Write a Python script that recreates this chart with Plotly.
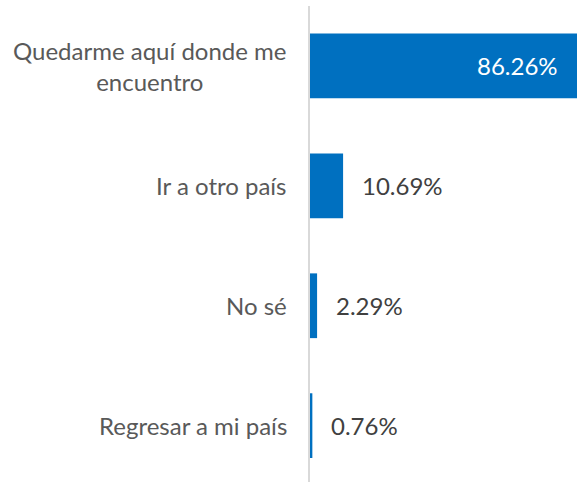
import plotly.graph_objects as go

categories = ['Quedarme aquí donde me<br>encuentro', 'Ir a otro país', 'No sé', 'Regresar a mi país']
values = [86.26, 10.69, 2.29, 0.76]
value_labels = ['86.26%', '10.69%', '2.29%', '0.76%']

bar_color = '#0070C0'
label_color = '#595959'
value_color = '#404040'

fig = go.Figure()
fig.add_trace(go.Bar(
    x=values, y=categories, orientation='h',
    marker=dict(color=bar_color, line=dict(width=0)),
    width=0.54, hoverinfo='skip'
))

# value labels: inside (white) for the big bar, outside otherwise
for cat, val, txt in zip(categories, values, value_labels):
    inside = val > 50
    fig.add_annotation(
        x=val, y=cat, xref='x', yref='y', text=txt, showarrow=False,
        xanchor='right' if inside else 'left',
        xshift=-17 if inside else 17,
        font=dict(family='Lato', size=24, color='white' if inside else value_color)
    )

# category labels, centred multi-line like the original
for cat in categories:
    fig.add_annotation(
        x=0, y=cat, xref='paper', yref='y', text=cat, showarrow=False,
        xanchor='right', xshift=-21, align='center',
        font=dict(family='Lato', size=24, color=label_color)
    )

fig.update_layout(
    width=583, height=482,
    margin=dict(l=310, r=6, t=6, b=0),
    paper_bgcolor='white', plot_bgcolor='white',
    showlegend=False,
    xaxis=dict(range=[0, 86.26], visible=False, fixedrange=True),
    yaxis=dict(
        categoryorder='array', categoryarray=categories,
        range=[3.47, -0.5], showticklabels=False,
        showline=True, linecolor='#d9d9d9', linewidth=2,
        showgrid=False, zeroline=False, ticks=''
    ),
)

fig.write_html('out.html', config={'displayModeBar': False},
               post_script="document.body.style.margin='0';")
